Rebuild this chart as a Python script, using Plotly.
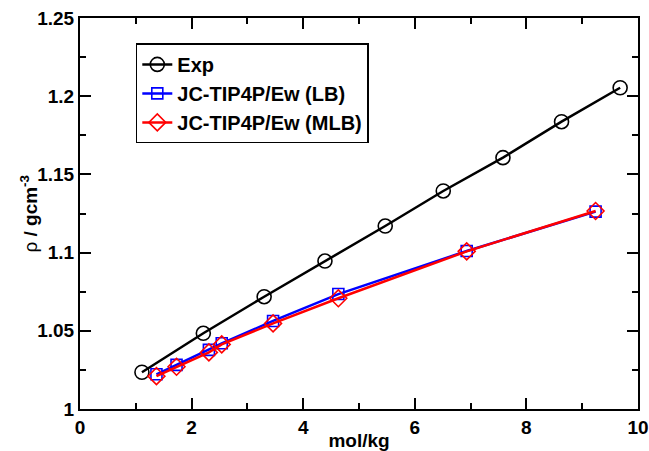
import plotly.graph_objects as go

exp_x = [1.11, 2.21, 3.30, 4.39, 5.47, 6.51, 7.58, 8.63, 9.68]
exp_y = [1.0235, 1.0484, 1.0718, 1.0946, 1.1170, 1.1394, 1.1607, 1.1837, 1.2054]

lb_x = [1.37, 1.73, 2.31, 2.54, 3.46, 4.63, 6.93, 9.24]
lb_y = [1.0222, 1.0282, 1.0378, 1.0420, 1.0563, 1.0735, 1.1010, 1.1262]

mlb_x = [1.37, 1.73, 2.31, 2.54, 3.46, 4.63, 6.93, 9.24]
mlb_y = [1.0210, 1.0270, 1.0362, 1.0413, 1.0547, 1.0708, 1.1008, 1.1266]

x_ticks = [0, 2, 4, 6, 8, 10]
x_labels = ["0", "2", "4", "6", "8", "10"]
y_ticks = [1.0, 1.05, 1.1, 1.15, 1.2, 1.25]
y_labels = ["1", "1.05", "1.1", "1.15", "1.2", "1.25"]

FONT = "Arial"

fig = go.Figure()
fig.add_trace(go.Scatter(x=exp_x, y=exp_y, mode="lines+markers", name="<b>Exp</b>",
                         line=dict(color="black", width=2.5),
                         marker=dict(symbol="circle-open", size=14, color="black", line=dict(width=1.6))))
fig.add_trace(go.Scatter(x=lb_x, y=lb_y, mode="lines+markers", name="<b>JC-TIP4P/Ew (LB)</b>",
                         line=dict(color="blue", width=2.5),
                         marker=dict(symbol="square-open", size=11, color="blue", line=dict(width=1.6))))
fig.add_trace(go.Scatter(x=mlb_x, y=mlb_y, mode="lines+markers", name="<b>JC-TIP4P/Ew (MLB)</b>",
                         line=dict(color="red", width=2.5),
                         marker=dict(symbol="diamond-open", size=13, color="red", line=dict(width=1.6))))

axis_common = dict(showgrid=False, zeroline=False, showline=True, linecolor="black", linewidth=2,
                   mirror="allticks", ticks="inside", ticklen=11, tickwidth=2, tickcolor="black",
                   automargin=False,
                   tickfont=dict(family=FONT, size=19, color="black"))

fig.update_xaxes(range=[0, 10], tickvals=x_ticks, ticktext=["<b>%s</b>" % t for t in x_labels],
                 minor=dict(ticks="inside", ticklen=6, tickwidth=2, tickcolor="black", dtick=1, tick0=0, showgrid=False),
                 title=dict(text="<b>mol/kg</b>", font=dict(family=FONT, size=19, color="black"), standoff=0),
                 **axis_common)
fig.update_yaxes(range=[1.0, 1.25], tickvals=y_ticks, ticktext=["<b>%s</b>" % t for t in y_labels],
                 minor=dict(ticks="inside", ticklen=6, tickwidth=2, tickcolor="black", dtick=0.025, tick0=1.0, showgrid=False),
                 **axis_common)

fig.add_annotation(text="ρ <b>/ gcm<sup>-3</sup></b>", xref="paper", yref="paper",
                   x=-0.093, y=0.5, xanchor="center", yanchor="middle", textangle=-90,
                   showarrow=False, font=dict(family=FONT, size=19, color="black"))

fig.update_layout(width=649, height=451, margin=dict(l=80, r=11, t=18, b=42),
                  plot_bgcolor="white", paper_bgcolor="white",
                  legend=dict(x=0.1, y=0.935, xanchor="left", yanchor="top", bgcolor="white",
                              bordercolor="black", borderwidth=1.5,
                              font=dict(family=FONT, size=20, color="black"),
                              itemwidth=30, tracegroupgap=0),
                  showlegend=True)

fig.write_html("out.html")
